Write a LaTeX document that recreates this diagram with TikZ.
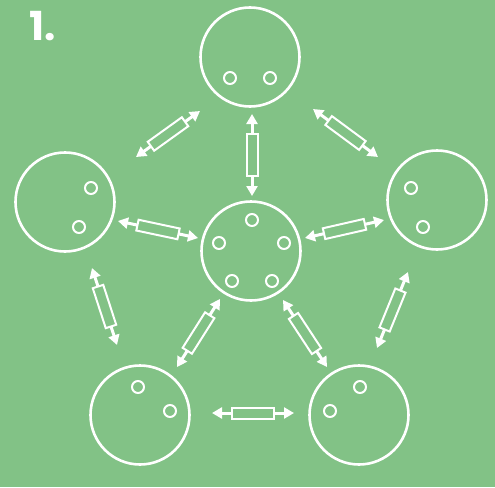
\documentclass[tikz,border=0pt]{standalone}
\usepackage{fontspec}
\setmainfont{Poppins}
\usetikzlibrary{arrows.meta}
\definecolor{bg}{RGB}{130,194,134}
\begin{document}
\begin{tikzpicture}[x=1pt,y=-1pt,
  big/.style={circle,draw=white,line width=2.6pt,minimum size=99pt,inner sep=0pt},
  hole/.style={circle,draw=white,line width=2pt,minimum size=12pt,inner sep=0pt},
  conn/.style={draw=white,line width=3pt,{Triangle[width=11pt,length=10pt]}-{Triangle[width=11pt,length=10pt]}},
  bar/.style={draw=white,fill=bg,line width=2pt,minimum width=42pt,minimum height=11pt,inner sep=0pt,sloped}]
\fill[bg] (0,0) rectangle (495,487);
\useasboundingbox (0,0) rectangle (495,487);
\node[text=white,font=\bfseries\fontsize{40}{40}\selectfont,anchor=base west,inner sep=0pt] (num) at (29,41) {1.};
% big circles
\node[big] (T) at (250,57) {};
\node[big] (C) at (251,251) {};
\node[big] (L) at (65,202) {};
\node[big] (R) at (437,200) {};
\node[big] (BL) at (140,415) {};
\node[big] (BR) at (359,415) {};
% holes
\node[hole] (t1) at (230,78) {};
\node[hole] (t2) at (270,78) {};
\node[hole] (c1) at (252,220) {};
\node[hole] (c2) at (219,243) {};
\node[hole] (c3) at (284,243) {};
\node[hole] (c4) at (232,281) {};
\node[hole] (c5) at (272,281) {};
\node[hole] (l1) at (91,188) {};
\node[hole] (l2) at (79,227) {};
\node[hole] (r1) at (411,188) {};
\node[hole] (r2) at (423,227) {};
\node[hole] (bl1) at (138,387) {};
\node[hole] (bl2) at (170,411) {};
\node[hole] (br1) at (360,387) {};
\node[hole] (br2) at (330,411) {};
% connector end points
\coordinate (a1) at (136,157); \coordinate (a2) at (200,111);
\coordinate (b1) at (252,114); \coordinate (b2) at (252,196);
\coordinate (d1) at (313,109); \coordinate (d2) at (378,157);
\coordinate (e1) at (118,221); \coordinate (e2) at (198,238);
\coordinate (f1) at (305,238); \coordinate (f2) at (384,220);
\coordinate (g1) at (92,268); \coordinate (g2) at (117,345);
\coordinate (h1) at (408,272); \coordinate (h2) at (377,348);
\coordinate (i1) at (220,299); \coordinate (i2) at (177,367);
\coordinate (j1) at (283,300); \coordinate (j2) at (327,367);
\coordinate (k1) at (212,413); \coordinate (k2) at (294,413);
\foreach \p/\q in {a1/a2,b1/b2,d1/d2,e1/e2,f1/f2,g1/g2,h1/h2,i1/i2,j1/j2,k1/k2}{
  \draw[conn] (\p) -- (\q) node[bar,midway] {};
}
\end{tikzpicture}
\end{document}
